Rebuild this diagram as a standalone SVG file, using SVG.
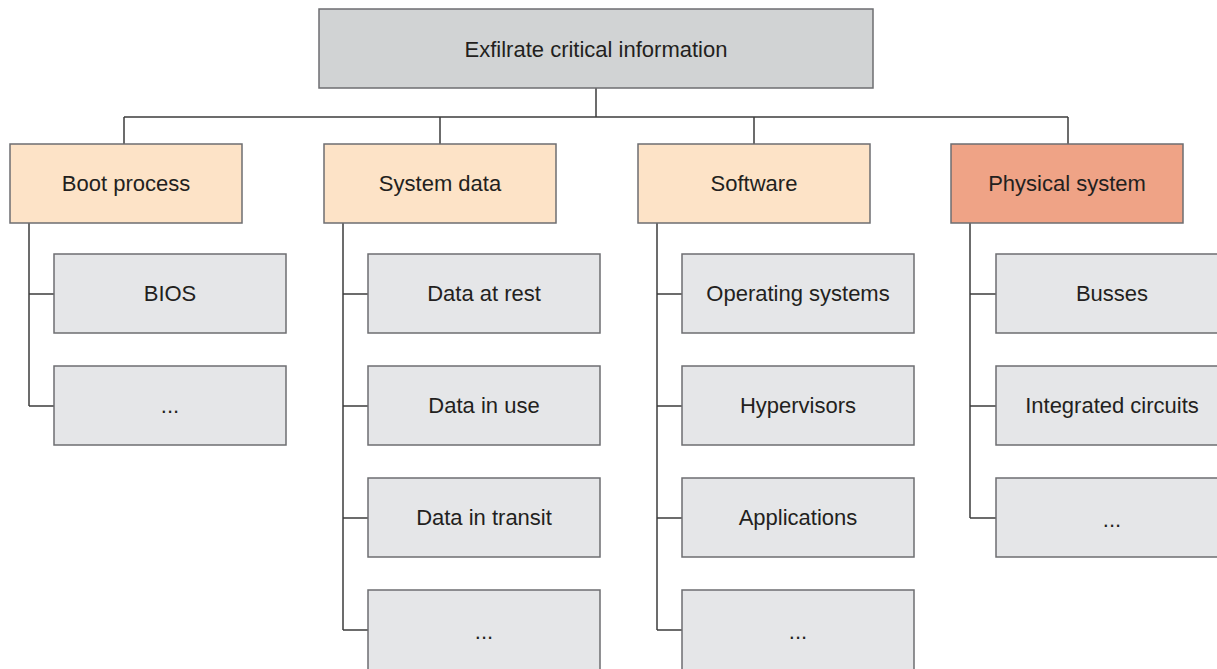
<svg xmlns="http://www.w3.org/2000/svg" width="1217" height="669" viewBox="0 0 1217 669">
<style>
.b{stroke:#6d6e71;stroke-width:1.5}
.root{fill:#d1d3d4}
.l1{fill:#fde3c7}
.phys{fill:#efa386}
.leaf{fill:#e5e6e8}
.c{fill:none;stroke:#3c3c3c;stroke-width:1.5}
text{font-family:"Liberation Sans",Arial,sans-serif;font-size:22px;fill:#231f20;text-anchor:middle;dominant-baseline:central}
</style>
<rect width="1217" height="669" fill="#fff"/>
<g id="connectors">
<path class="c" d="M596 88V117M124 117H1068M124 117V144M440 117V144M754 117V144M1068 117V144"/>
<path class="c" d="M29 223V406M29 294H54M29 406H54"/>
<path class="c" d="M343 223V630M343 294H368M343 406H368M343 518H368M343 630H368"/>
<path class="c" d="M657 223V630M657 294H682M657 406H682M657 518H682M657 630H682"/>
<path class="c" d="M970 223V518M970 294H996M970 406H996M970 518H996"/>
</g>
<g id="root"><rect class="b root" x="319" y="9" width="554" height="79"/><text x="596" y="49">Exfilrate critical information</text></g>
<g id="boot"><rect class="b l1" x="10" y="144" width="232" height="79"/><text x="126" y="183">Boot process</text></g>
<g id="sysdata"><rect class="b l1" x="324" y="144" width="232" height="79"/><text x="440" y="183">System data</text></g>
<g id="software"><rect class="b l1" x="638" y="144" width="232" height="79"/><text x="754" y="183">Software</text></g>
<g id="physical"><rect class="b phys" x="951" y="144" width="232" height="79"/><text x="1067" y="183">Physical system</text></g>
<g id="bios"><rect class="b leaf" x="54" y="254" width="232" height="79"/><text x="170" y="293">BIOS</text></g>
<g id="boot-more"><rect class="b leaf" x="54" y="366" width="232" height="79"/><text x="170" y="405">...</text></g>
<g id="rest"><rect class="b leaf" x="368" y="254" width="232" height="79"/><text x="484" y="293">Data at rest</text></g>
<g id="use"><rect class="b leaf" x="368" y="366" width="232" height="79"/><text x="484" y="405">Data in use</text></g>
<g id="transit"><rect class="b leaf" x="368" y="478" width="232" height="79"/><text x="484" y="517">Data in transit</text></g>
<g id="sys-more"><rect class="b leaf" x="368" y="590" width="232" height="80"/><text x="484" y="631">...</text></g>
<g id="os"><rect class="b leaf" x="682" y="254" width="232" height="79"/><text x="798" y="293">Operating systems</text></g>
<g id="hyp"><rect class="b leaf" x="682" y="366" width="232" height="79"/><text x="798" y="405">Hypervisors</text></g>
<g id="apps"><rect class="b leaf" x="682" y="478" width="232" height="79"/><text x="798" y="517">Applications</text></g>
<g id="sw-more"><rect class="b leaf" x="682" y="590" width="232" height="80"/><text x="798" y="631">...</text></g>
<g id="busses"><rect class="b leaf" x="996" y="254" width="232" height="79"/><text x="1112" y="293">Busses</text></g>
<g id="ic"><rect class="b leaf" x="996" y="366" width="232" height="79"/><text x="1112" y="405">Integrated circuits</text></g>
<g id="phys-more"><rect class="b leaf" x="996" y="478" width="232" height="79"/><text x="1112" y="519">...</text></g>
</svg>
